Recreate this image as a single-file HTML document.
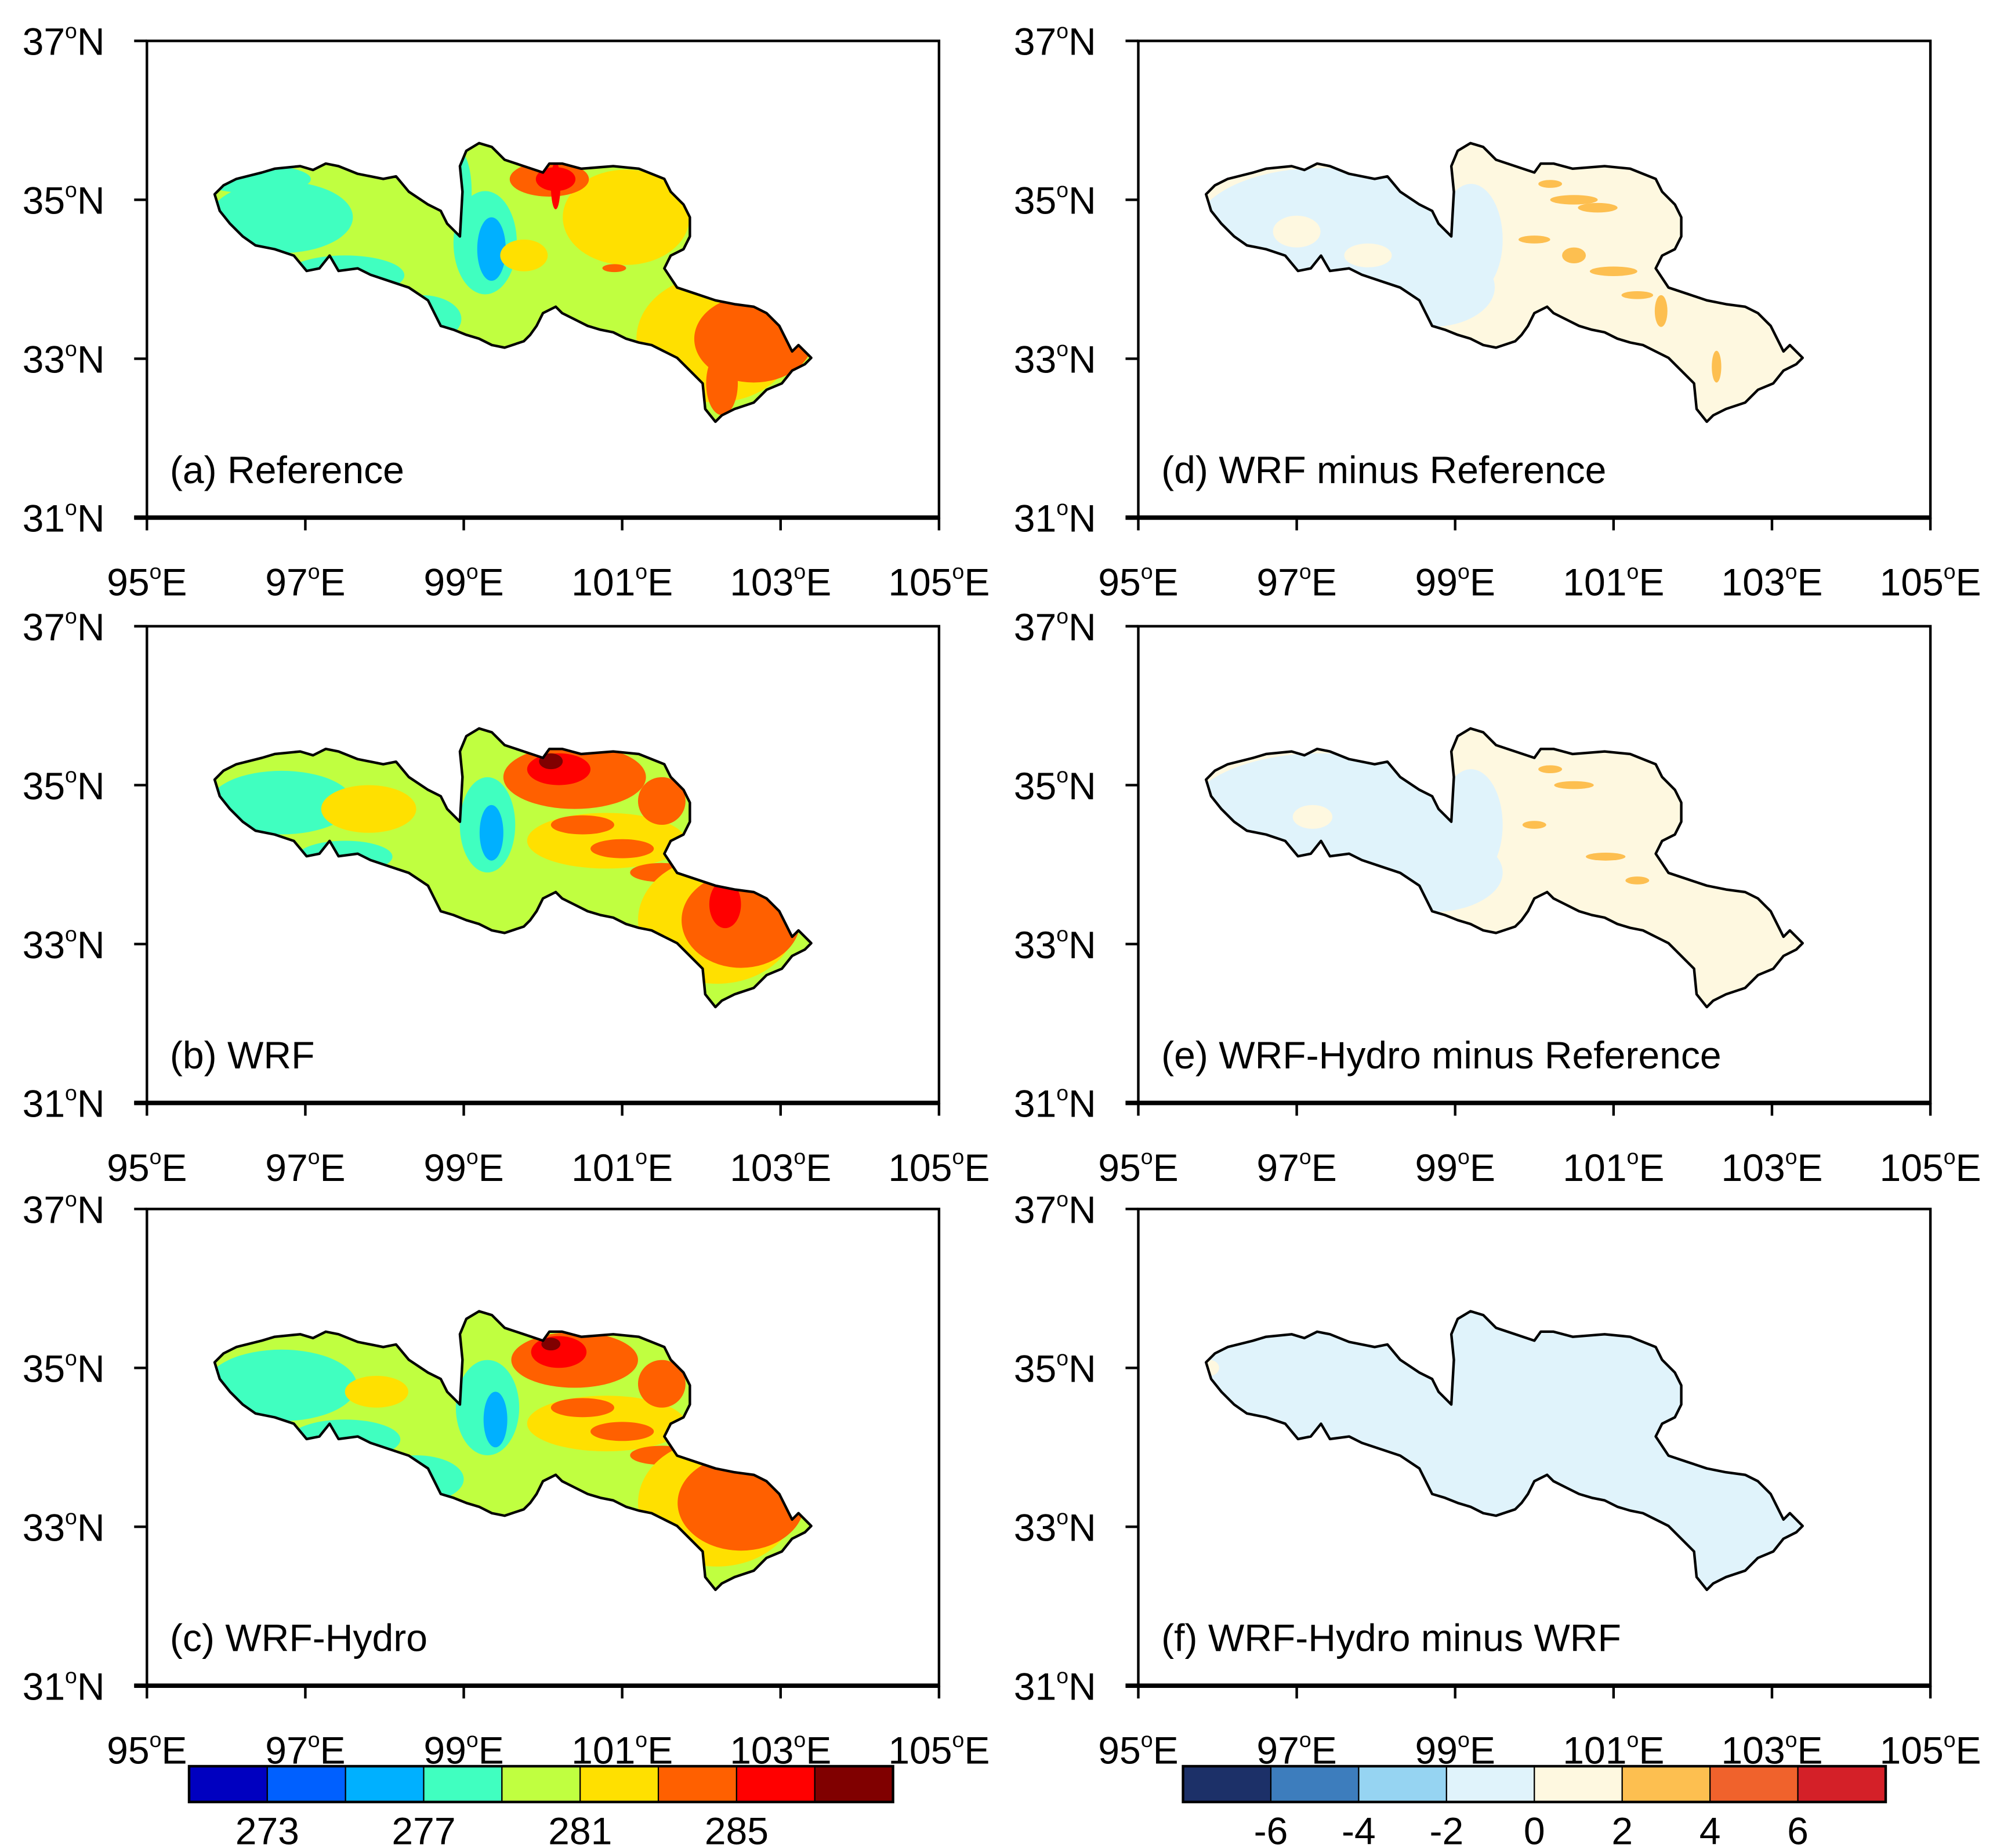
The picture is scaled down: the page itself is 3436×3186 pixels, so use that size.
<!DOCTYPE html>
<html><head><meta charset="utf-8"><style>
html,body{margin:0;padding:0;background:#fff}
svg{display:block}
text{font-family:"Liberation Sans",sans-serif;fill:#000}
</style></head><body>
<svg id="fig" width="3436" height="3186" viewBox="0 0 1560 1446" preserveAspectRatio="none" xmlns="http://www.w3.org/2000/svg"></svg>
<script>
// ---- data ----
const lonTicks = [95, 97, 99, 101, 103, 105];
const latTicks = [31, 33, 35, 37];
const tempColors = ["#0000c0","#0060ff","#00b0ff","#40ffc0","#c0ff40","#ffe000","#ff6000","#ff0000","#800000"];
const tempLabels = ["273","277","281","285"];
const tempLabelBounds = [1,3,5,7];
const diffColors = ["#1c3068","#3d7dbd","#96d4f2","#e0f3fb","#fef8e0","#fdbf50","#f0622c","#d42028"];
const diffLabels = ["-6","-4","-2","0","2","4","6"];
const diffLabelBounds = [1,2,3,4,5,6,7];
// field blobs: [lon, lat, rLon, rLat, level]
const fieldA = [[96.7,34.78,0.9,0.45,3],[97.5,34.05,0.75,0.25,3],[96.37,35.26,0.7,0.18,3],[98.47,33.5,0.5,0.3,3],[98.95,35.1,0.15,0.5,3],
 [99.27,34.46,0.4,0.65,3],[99.35,34.38,0.18,0.4,2],[101.05,34.78,0.8,0.6,5],[99.76,34.3,0.3,0.2,5],
 [100.08,35.26,0.5,0.22,6],[100.16,35.26,0.25,0.15,7],[100.16,35.18,0.06,0.3,7],
 [102.18,33.25,1.0,0.8,5],[102.66,33.25,0.75,0.55,6],[102.26,32.69,0.2,0.4,6],[100.9,34.14,0.15,0.05,6]];
const fieldB = [[96.7,34.78,0.9,0.4,3],[97.5,34.1,0.6,0.2,3],[97.8,34.7,0.6,0.3,5],[99.3,34.5,0.35,0.6,3],[99.35,34.4,0.15,0.35,2],
 [100.8,34.3,1.0,0.35,5],[100.4,35.1,0.9,0.4,6],[100.2,35.2,0.4,0.2,7],[100.1,35.3,0.15,0.1,8],[101.5,34.8,0.3,0.3,6],
 [100.5,34.5,0.4,0.12,6],[101.0,34.2,0.4,0.12,6],[101.5,33.9,0.4,0.12,6],
 [102.2,33.3,1.0,0.8,5],[102.5,33.3,0.75,0.6,6],[102.3,33.5,0.2,0.3,7]];
const fieldC = [[96.7,34.78,0.95,0.45,3],[97.5,34.1,0.7,0.25,3],[98.4,33.6,0.6,0.3,3],[97.9,34.7,0.4,0.2,5],[99.3,34.5,0.4,0.6,3],[99.4,34.35,0.15,0.35,2],
 [100.8,34.3,1.0,0.35,5],[100.4,35.1,0.8,0.35,6],[100.2,35.2,0.35,0.2,7],[100.1,35.3,0.12,0.08,8],[101.5,34.8,0.3,0.3,6],
 [100.5,34.5,0.4,0.12,6],[101.0,34.2,0.4,0.12,6],[101.5,33.9,0.4,0.12,6],
 [102.2,33.3,1.0,0.8,5],[102.5,33.3,0.8,0.6,6]];
const fieldD = [[97.3,34.6,1.6,0.8,3],[98.7,33.9,0.8,0.5,3],[99.2,34.5,0.4,0.7,3],[97.0,34.6,0.3,0.2,4],[97.9,34.3,0.3,0.15,4],
 [100.2,35.2,0.15,0.05,5],[100.5,35.0,0.3,0.06,5],[100.8,34.9,0.25,0.06,5],[100.0,34.5,0.2,0.05,5],[100.5,34.3,0.15,0.1,5],
 [101.0,34.1,0.3,0.06,5],[101.3,33.8,0.2,0.05,5],[101.6,33.6,0.08,0.2,5],[102.3,32.9,0.06,0.2,5]];
const fieldE = [[97.3,34.6,1.7,0.8,3],[98.7,33.9,0.9,0.5,3],[99.2,34.5,0.4,0.7,3],[97.2,34.6,0.25,0.15,4],
 [100.2,35.2,0.15,0.05,5],[100.5,35.0,0.25,0.05,5],[100.0,34.5,0.15,0.05,5],[100.9,34.1,0.25,0.05,5],[101.3,33.8,0.15,0.05,5]];
const fieldF = [[95.9,35.0,0.12,0.1,4]];
const panels = [
 {col:0,row:0,label:"(a) Reference",field:fieldA,base:4,pal:tempColors,name:"panel-a-reference"},
 {col:0,row:1,label:"(b) WRF",field:fieldB,base:4,pal:tempColors,name:"panel-b-wrf"},
 {col:0,row:2,label:"(c) WRF-Hydro",field:fieldC,base:4,pal:tempColors,name:"panel-c-wrf-hydro"},
 {col:1,row:0,label:"(d) WRF minus Reference",field:fieldD,base:4,pal:diffColors,name:"panel-d-wrf-minus-ref"},
 {col:1,row:1,label:"(e) WRF-Hydro minus Reference",field:fieldE,base:4,pal:diffColors,name:"panel-e-hydro-minus-ref"},
 {col:1,row:2,label:"(f) WRF-Hydro minus WRF",field:fieldF,base:3,pal:diffColors,name:"panel-f-hydro-minus-wrf"}];
const outlineXY = [[168,152],[175,145],[185,140],[205,135],[215,132],[235,130],[245,133],[255,128],[265,130],[280,136],[300,140],[310,138],[320,150],[335,160],[345,165],[350,175],[360,185],[362,150],[360,130],[365,118],[375,112],[385,115],[395,125],[410,130],[425,135],[430,128],[440,128],[455,132],[480,130],[500,132],[520,140],[525,150],[535,160],[540,170],[540,185],[535,195],[525,200],[520,210],[530,225],[545,230],[560,235],[575,238],[590,240],[600,245],[610,255],[615,265],[620,275],[625,270],[635,280],[630,285],[620,290],[612,300],[600,305],[590,315],[575,320],[565,325],[560,330],[552,320],[550,300],[540,290],[530,280],[520,275],[510,270],[500,268],[490,265],[480,260],[470,258],[460,255],[450,250],[440,245],[435,240],[425,245],[420,255],[415,262],[410,267],[395,272],[385,270],[375,265],[365,262],[355,258],[345,255],[340,245],[335,235],[320,225],[305,220],[290,215],[280,210],[265,212],[258,200],[250,210],[240,212],[230,200],[215,195],[200,192],[190,185],[180,175],[172,165]];
// ---- drawing ----
const NS="http://www.w3.org/2000/svg";
const svg=document.getElementById('fig');
function el(t,a,p){const e=document.createElementNS(NS,t);for(const k in a)e.setAttribute(k,a[k]);(p||svg).appendChild(e);return e;}
function degLabel(g,x,y,num,suffix,anchor){
 const t=el('text',{x:x,y:y,'font-size':30,'text-anchor':anchor},g);
 const a=el('tspan',{},t);a.textContent=num;
 const b=el('tspan',{dy:-13,'font-size':17},t);b.textContent='o';
 const c=el('tspan',{dy:13},t);c.textContent=suffix;
 return t;
}
const FW=620,FH=373,colX=[115,891],rowY=[32,490,946];
const defs=el('defs',{});
panels.forEach((P,i)=>{
 const x0=colX[P.col],y0=rowY[P.row];
 const sx=lon=>x0+(lon-95)/10*FW, sy=lat=>y0+FH-(lat-31)/6*FH;
 const g=el('g',{});
 
 
 const pts=outlineXY.map(p=>(p[0]-115+x0)+','+(p[1]-32+y0)).join(' ');
 const cp=el('clipPath',{id:'cp'+i},defs);el('polygon',{points:pts},cp);
 const fg=el('g',{'clip-path':'url(#cp'+i+')'},g);
 
 
 el('rect',{x:x0,y:y0,width:FW,height:FH,fill:P.pal[P.base]},fg);
 P.field.forEach(b=>{
  const e=el('ellipse',{cx:sx(b[0]),cy:sy(b[1]),rx:b[2]/10*FW,ry:b[3]/6*FH,fill:P.pal[b[4]]},fg);
  
  
 });
 const ol=el('polygon',{points:pts,fill:'none',stroke:'#000','stroke-width':2,'stroke-linejoin':'round'},g);
 
 
 const fr=el('rect',{x:x0,y:y0,width:FW,height:FH,fill:'none',stroke:'#000','stroke-width':2},g);
 
 
 el('line',{x1:x0-10,y1:y0+FH,x2:x0+FW,y2:y0+FH,stroke:'#000','stroke-width':3.5},g);
 latTicks.forEach(v=>{
  const y=sy(v);
  el('line',{x1:x0-10,y1:y,x2:x0,y2:y,stroke:'#000','stroke-width':2},g);
  const t=degLabel(g,x0-33,y+11,String(v),'N','end');
  
  
 });
 lonTicks.forEach(v=>{
  const x=sx(v);
  el('line',{x1:x,y1:y0+FH,x2:x,y2:y0+FH+10,stroke:'#000','stroke-width':2},g);
  const t=degLabel(g,x,y0+FH+61,String(v),'E','middle');
  
  
 });
 const lb=el('text',{x:x0+18,y:y0+346,'font-size':30},g);
 
 
 lb.textContent=P.label;
});
function colorbar(x0,x1,cols,labels,bounds,name){
 const g=el('g',{});
 
 
 const w=(x1-x0)/cols.length,y=1382,h=28;
 cols.forEach((c,i)=>{
  const r=el('rect',{x:x0+i*w,y:y,width:w,height:h,fill:c,stroke:'#000','stroke-width':1},g);
  
  
 });
 el('rect',{x:x0,y:y,width:x1-x0,height:h,fill:'none',stroke:'#000','stroke-width':2},g);
 labels.forEach((s,i)=>{
  const t=el('text',{x:x0+bounds[i]*w,y:1443,'font-size':30,'text-anchor':'middle'},g);
  
  
  t.textContent=s;
 });
}
colorbar(148,699,tempColors,tempLabels,tempLabelBounds,'temperature-colorbar');
colorbar(926,1476,diffColors,diffLabels,diffLabelBounds,'difference-colorbar');
</script>
</body></html>
